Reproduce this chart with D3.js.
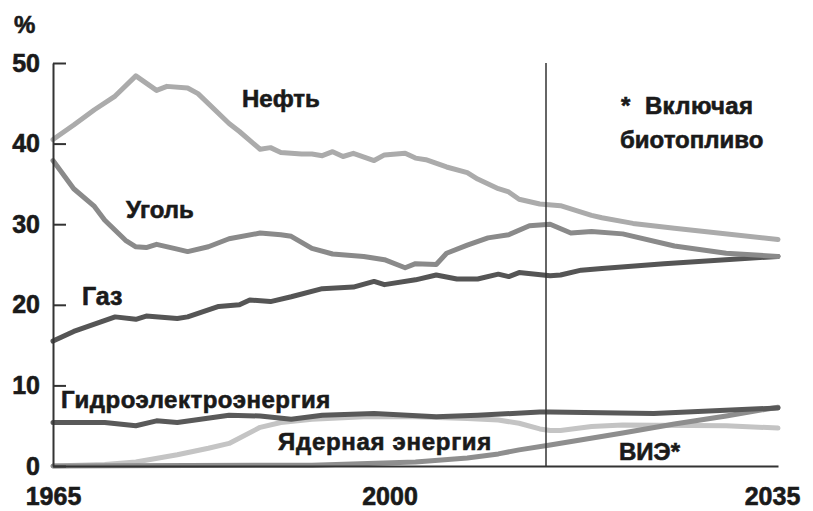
<!DOCTYPE html>
<html>
<head>
<meta charset="utf-8">
<script src="https://cdn.jsdelivr.net/npm/d3@7"></script>
<style>
  html, body { margin: 0; padding: 0; background: #fff; }
  svg text { font-family: "Liberation Sans", Arial, sans-serif; font-weight: bold; fill: #1a1a1a; stroke: #1a1a1a; stroke-width: 0.6px; }
</style>
</head>
<body>
<div id="chart"></div>
<script>
// Share of world primary energy, %
var oilYears = [1965, 1967, 1969, 1971, 1973, 1975, 1976, 1978, 1979, 1982, 1983, 1985, 1986, 1987, 1989, 1990, 1991, 1992, 1993, 1994, 1996, 1997, 1999, 2000, 2001, 2003, 2005, 2006, 2008, 2009, 2010, 2012, 2014, 2017, 2018, 2021, 2025, 2035];
var oilValues = [40.5, 42.3, 44.2, 45.9, 48.4, 46.6, 47.1, 46.9, 46.2, 42.5, 41.5, 39.3, 39.5, 38.9, 38.7, 38.7, 38.5, 39.0, 38.4, 38.8, 37.9, 38.6, 38.8, 38.2, 38.0, 37.1, 36.4, 35.6, 34.4, 34.0, 33.1, 32.5, 32.3, 31.1, 30.8, 30.1, 29.5, 28.1];

var coalYears = [1965, 1967, 1969, 1970, 1972, 1973, 1974, 1975, 1977, 1978, 1980, 1982, 1985, 1987, 1988, 1990, 1992, 1995, 1997, 1999, 2000, 2002, 2003, 2005, 2007, 2009, 2011, 2013, 2015, 2017, 2020, 2025, 2030, 2035];
var coalValues = [37.9, 34.4, 32.2, 30.5, 28.0, 27.2, 27.1, 27.5, 26.9, 26.6, 27.2, 28.2, 28.9, 28.7, 28.5, 27.0, 26.3, 26.0, 25.6, 24.6, 25.1, 25.0, 26.4, 27.4, 28.3, 28.7, 29.8, 30.0, 28.9, 29.1, 28.8, 27.3, 26.4, 26.0];

var gasYears = [1965, 1967, 1971, 1973, 1974, 1977, 1978, 1981, 1983, 1984, 1986, 1988, 1991, 1994, 1996, 1997, 2000, 2002, 2004, 2006, 2008, 2009, 2010, 2013, 2014, 2016, 2018, 2024, 2035];
var gasValues = [15.5, 16.7, 18.5, 18.2, 18.6, 18.3, 18.5, 19.8, 20.0, 20.6, 20.4, 21.0, 22.0, 22.2, 22.9, 22.5, 23.1, 23.7, 23.2, 23.2, 23.8, 23.5, 24.0, 23.6, 23.7, 24.3, 24.5, 25.1, 26.0];

var hydroYears = [1965, 1970, 1973, 1975, 1977, 1982, 1985, 1988, 1991, 1996, 2002, 2006, 2012, 2013, 2023, 2035];
var hydroValues = [5.4, 5.4, 5.0, 5.6, 5.4, 6.3, 6.2, 5.8, 6.3, 6.5, 6.1, 6.3, 6.7, 6.7, 6.5, 7.2];

var nuclearYears = [1965, 1970, 1973, 1977, 1980, 1982, 1985, 1987, 1990, 1995, 2000, 2005, 2008, 2010, 2012, 2013, 2014, 2017, 2020, 2030, 2035];
var nuclearValues = [0.0, 0.2, 0.5, 1.4, 2.2, 2.8, 4.8, 5.4, 5.8, 6.1, 6.1, 5.9, 5.7, 5.3, 4.6, 4.4, 4.4, 4.9, 5.1, 5.0, 4.7];

var renewYears = [1965, 1990, 2000, 2005, 2008, 2010, 2013, 2020, 2025, 2030, 2035];
var renewValues = [0.0, 0.1, 0.5, 1.0, 1.5, 2.0, 2.6, 4.1, 5.2, 6.2, 7.3];

var xTicks = [1965, 2000, 2035];
var yTicks = [0, 10, 20, 30, 40, 50];
var forecastStart = 2012.6;

var series = [
    { name: "nuclear", years: nuclearYears, values: nuclearValues, color: "#c4c4c4" },
    { name: "renew", years: renewYears, values: renewValues, color: "#8e8e8e" },
    { name: "hydro", years: hydroYears, values: hydroValues, color: "#595959" },
    { name: "gas", years: gasYears, values: gasValues, color: "#555555" },
    { name: "coal", years: coalYears, values: coalValues, color: "#8a8a8a" },
    { name: "oil", years: oilYears, values: oilValues, color: "#ababab" }
];

var width = 813, height = 511;

var svg = d3.select("#chart").append("svg")
    .attr("width", width)
    .attr("height", height);

var x = d3.scaleLinear().domain([1965, 2035]).range([53, 778]);
var y = d3.scaleLinear().domain([0, 50]).range([466, 63]);

// lines
var line = d3.line()
    .x(d => x(d[0]))
    .y(d => y(d[1]));

svg.append("g")
    .selectAll("path")
    .data(series)
    .enter().append("path")
    .attr("d", s => line(s.years.map((yr, i) => [yr, s.values[i]])))
    .attr("fill", "none")
    .attr("stroke", s => s.color)
    .attr("stroke-width", 5)
    .attr("stroke-linejoin", "round")
    .attr("stroke-linecap", "round");

// axes
var yAxis = svg.append("g")
    .attr("transform", "translate(" + x(1965) + ",0)")
    .call(d3.axisLeft(y).tickValues(yTicks).tickSizeInner(-13).tickSizeOuter(0).tickPadding(13));

var xAxis = svg.append("g")
    .attr("transform", "translate(0," + y(0) + ")")
    .call(d3.axisBottom(x).tickValues(xTicks).tickFormat(d3.format("d")).tickSize(0).tickPadding(21));

[yAxis, xAxis].forEach(ax => {
    ax.select(".domain").attr("stroke", "#333").attr("stroke-width", 2);
    ax.selectAll(".tick line").attr("stroke", "#333").attr("stroke-width", 2);
    ax.selectAll("text")
        .attr("font-size", 25)
        .attr("font-family", null)
        .attr("fill", "#1a1a1a");
});
xAxis.selectAll(".tick text").attr("dx", d => d === 2000 ? -26 : d === 2035 ? -6 : 0);

// forecast divider
svg.append("line")
    .attr("x1", x(forecastStart)).attr("x2", x(forecastStart))
    .attr("y1", y(50)).attr("y2", y(0))
    .attr("stroke", "#333")
    .attr("stroke-width", 1.5);

// labels
var labels = [
    { text: "%", x: 14, y: 33, size: 24, ls: 0 },
    { text: "Нефть", x: 242, y: 107, size: 24, ls: 0 },
    { text: "Уголь", x: 126, y: 218, size: 24, ls: 0 },
    { text: "Газ", x: 82, y: 305, size: 25, ls: 0 },
    { text: "Гидроэлектроэнергия", x: 61, y: 408, size: 24, ls: 0.5 },
    { text: "Ядерная энергия", x: 278, y: 450, size: 24, ls: 0.7 },
    { text: "ВИЭ*", x: 619, y: 460, size: 24, ls: 0 },
    { text: "*  Включая", x: 621, y: 114, size: 24, ls: 0.4 },
    { text: "биотопливо", x: 620, y: 148, size: 24, ls: 0 }
];

svg.append("g")
    .selectAll("text")
    .data(labels)
    .enter().append("text")
    .attr("x", d => d.x)
    .attr("y", d => d.y)
    .attr("font-size", d => d.size)
    .attr("letter-spacing", d => d.ls + "px")
    .style("white-space", "pre")
    .text(d => d.text);
</script>
</body>
</html>
